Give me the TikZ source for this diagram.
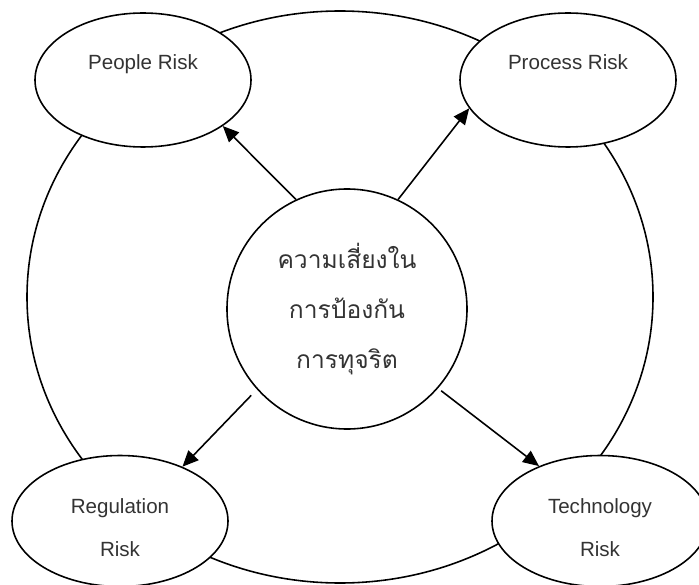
\documentclass[tikz,border=0pt]{standalone}
\usepackage{fontspec}
\setmainfont{Liberation Sans}
\newfontfamily\thaifont[Script=Thai]{Loma}
\usetikzlibrary{shapes.geometric,arrows.meta,calc}

\begin{document}
\begin{tikzpicture}[line width=0.9pt,
    risk/.style={ellipse,draw,fill=white,minimum width=4.32cm,minimum height=2.68cm,inner sep=0pt},
    tag/.style={align=center,text=black!80,font=\fontsize{11.7}{24.5}\selectfont},
    link/.style={-{Triangle[length=3.2mm,width=2.8mm]}}]
      \useasboundingbox (0,0) rectangle (13.98,-11.7);
      % outer ring
      \draw (6.8,-5.94) ellipse (6.26 and 5.72);
      % the four risks
      \node[risk,label={[tag,yshift=0.32cm]center:People Risk}] (people) at (2.86,-1.6) {};
      \node[risk,label={[tag,yshift=0.36cm]center:Process Risk}] (process) at (11.36,-1.6) {};
      \node[risk,minimum height=2.62cm,label={[tag,yshift=-0.13cm]center:Regulation\\Risk}] (regulation) at (2.4,-10.42) {};
      \node[risk,minimum height=2.62cm,label={[tag,yshift=-0.13cm]center:Technology\\Risk}] (technology) at (12.0,-10.42) {};
      % centre
      \node[circle,draw,fill=white,minimum size=4.8cm,inner sep=0pt,align=center,
        font=\thaifont\fontsize{14}{28.45}\selectfont,text=black!80] (fraud) at (6.94,-6.18)
        {ความเสี่ยงใน\\การป้องกัน\\การทุจริต};
      % arrows
      \draw[link] (fraud.115) -- (people.-30);
      \draw[link] (fraud.65) -- (process.-164);
      \draw[link] ($(fraud.222)+(-0.12,-0.11)$) -- (regulation.41);
      \draw[link] ($(fraud.-41)+(0.06,-0.05)$) -- (technology.138);
    \end{tikzpicture}
\end{document}
